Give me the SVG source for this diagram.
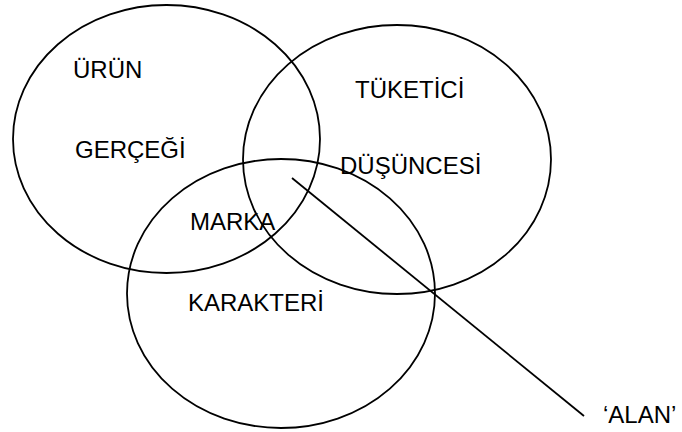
<svg xmlns="http://www.w3.org/2000/svg" width="682" height="432" viewBox="0 0 682 432">
<style>
.c{fill:none;stroke:#000;stroke-width:1.8}
.t{font-family:"Liberation Sans",Arial,sans-serif;font-size:24px;fill:#000}
</style>
<rect width="682" height="432" fill="#fff"/>
<g id="urun">
<ellipse class="c" cx="166.5" cy="139" rx="153.5" ry="134"/>
<text class="t" x="73" y="78">ÜRÜN</text>
<text class="t" x="75" y="158">GERÇEĞİ</text>
</g>
<g id="tuketici">
<ellipse class="c" cx="397" cy="159.5" rx="154" ry="134.5"/>
<text class="t" x="355" y="98">TÜKETİCİ</text>
<text class="t" x="340" y="174">DÜŞÜNCESİ</text>
</g>
<g id="marka">
<ellipse class="c" cx="281" cy="293.5" rx="154" ry="134.5"/>
<text class="t" x="190" y="230">MARKA</text>
<text class="t" x="188" y="311">KARAKTERİ</text>
</g>
<g id="connectors">
<line class="c" x1="292" y1="178" x2="584" y2="416"/>
</g>
<g id="alan">
<text class="t" x="603" y="423">‘ALAN’</text>
</g>
</svg>
